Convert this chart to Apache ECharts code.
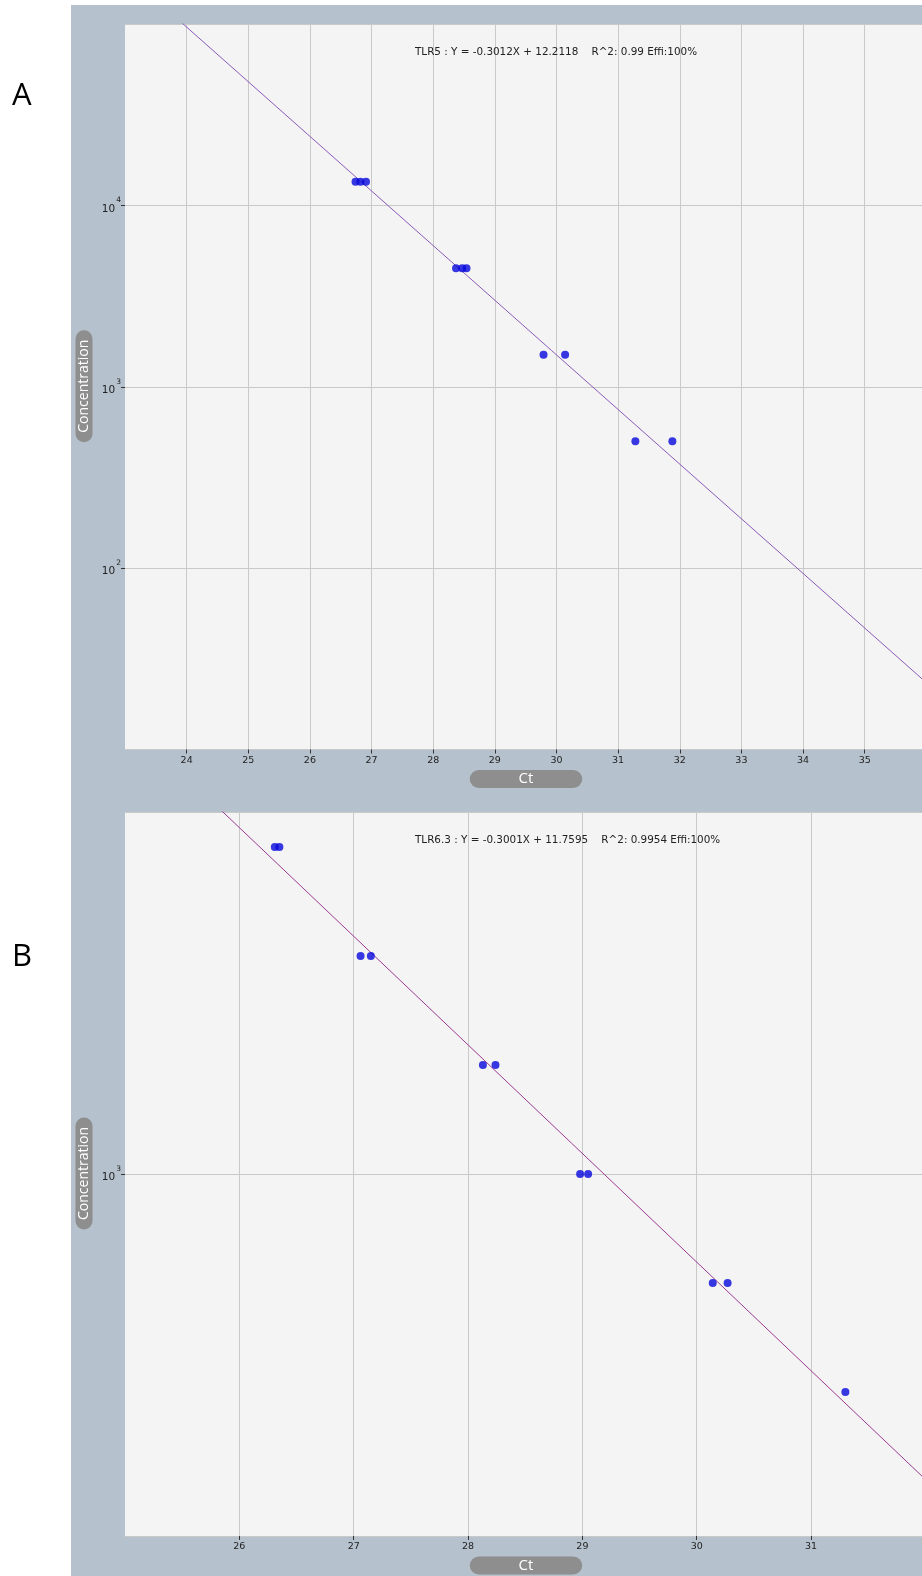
<!DOCTYPE html>
<html>
<head>
<meta charset="utf-8">
<script src="https://cdn.jsdelivr.net/npm/echarts@6/dist/echarts.min.js"></script>
<style>
  html, body { margin: 0; padding: 0; background: #fff; }
  #chart { width: 922px; height: 1576px; }
</style>
</head>
<body>
<div id="chart"></div>
<script>
// ---- Standard curve A: TLR5 ----
const ctA   = [26.74, 26.82, 26.91, 28.37, 28.47, 28.54, 29.79, 30.14, 31.28, 31.88];
const concA = [13500, 13500, 13500, 4500, 4500, 4500, 1500, 1500, 500, 500];
const fitA  = { name: 'TLR5', slope: -0.3012, intercept: 12.2118, r2: '0.99', effi: '100%' };
const xTicksA = [24, 25, 26, 27, 28, 29, 30, 31, 32, 33, 34, 35];
const xRangeA = [23, 35.93];
const yRangeA = [10, 100000];

// ---- Standard curve B: TLR6.3 ----
const ctB   = [26.31, 26.35, 27.06, 27.15, 28.13, 28.24, 28.98, 29.05, 30.14, 30.27, 31.30];
const concB = [8000, 8000, 4000, 4000, 2000, 2000, 1000, 1000, 500, 500, 250];
const fitB  = { name: 'TLR6.3', slope: -0.3001, intercept: 11.7595, r2: '0.9954', effi: '100%' };
const xTicksB = [26, 27, 28, 29, 30, 31];
const xRangeB = [25, 31.97];
const yRangeB = [100, 10000];

// ---- layout ----
const PLOT_L = 125;
const PANEL_L = 71, PANEL_T = 5;
const gridA = { top: 24, height: 725.5 };
const gridB = { top: 812, height: 724 };
const PANEL_BG = '#b5c1cc';
const PLOT_BG = '#f4f4f4';
const GRID_LINE = '#c9c9c9';
const PILL = '#8e8e8e';
const TEXT = '#222';

const pairs = (xs, ys) => xs.map((x, i) => [x, ys[i]]);
// regression line log10(C) = slope * Ct + intercept, across the visible Ct range
const fitLine = (fit, range) => range.map(x => [x, Math.pow(10, fit.slope * x + fit.intercept)]);
const eqText = f => `${f.name} : Y = ${f.slope.toFixed(4)}X + ${f.intercept.toFixed(4)}    R^2: ${f.r2} Effi:${f.effi}`;

function xAxis(gridIndex, range, ticks) {
  return {
    type: 'value', gridIndex, min: range[0], max: range[1], interval: 1,
    axisLine: { show: false },
    axisTick: { show: true, length: 4, customValues: ticks, lineStyle: { color: '#333', width: 1 } },
    axisLabel: { customValues: ticks, margin: 6, color: TEXT, fontSize: 9.5, fontFamily: 'DejaVu Sans' },
    splitLine: { show: true, lineStyle: { color: GRID_LINE, width: 1 } }
  };
}
function yAxis(gridIndex, range) {
  return {
    type: 'log', logBase: 10, gridIndex, min: range[0], max: range[1],
    axisLine: { show: false },
    axisTick: { show: true, length: 4, lineStyle: { color: '#333', width: 1 } },
    axisLabel: {
      showMinLabel: false, showMaxLabel: false, margin: 4,
      formatter: v => '{b|10}{s|' + Math.round(Math.log10(v)) + '}',
      rich: {
        b: { fontSize: 10.5, fontFamily: 'DejaVu Sans', color: TEXT, lineHeight: 18, verticalAlign: 'bottom', padding: [5, 0, 0, 0] },
        s: { fontSize: 7.5, fontFamily: 'DejaVu Sans', color: TEXT, lineHeight: 18, verticalAlign: 'top', padding: [0, 0, 2, 1] }
      }
    },
    splitLine: { show: true, lineStyle: { color: GRID_LINE, width: 1 } }
  };
}

const chart = echarts.init(document.getElementById('chart'), null, { renderer: 'canvas' });
const W = 922, H = 1576;

function pillText(cx, cy, w, h, text, vertical, fontSize) {
  return [
    { type: 'rect', z: 10,
      shape: vertical ? { x: cx - w / 2, y: cy - h / 2, width: w, height: h, r: w / 2 }
                      : { x: cx - w / 2, y: cy - h / 2, width: w, height: h, r: h / 2 },
      style: { fill: PILL } },
    { type: 'text', z: 11, x: cx, y: cy, rotation: vertical ? Math.PI / 2 : 0,
      style: { text, fill: '#fff', font: `${fontSize}px "Open Sans", sans-serif`, textAlign: 'center', textVerticalAlign: 'middle' } }
  ];
}

const plotCx = (PLOT_L + W) / 2 + 2.5;
const cyA = gridA.top + gridA.height / 2;
const cyB = gridB.top + gridB.height / 2;
const botA = gridA.top + gridA.height;
const botB = gridB.top + gridB.height;

chart.setOption({
  animation: false,
  backgroundColor: PANEL_BG,
  grid: [
    { left: PLOT_L, right: 0, top: gridA.top, height: gridA.height, show: true, backgroundColor: PLOT_BG, borderWidth: 0 },
    { left: PLOT_L, right: 0, top: gridB.top, height: gridB.height, show: true, backgroundColor: PLOT_BG, borderWidth: 0 }
  ],
  xAxis: [xAxis(0, xRangeA, xTicksA), xAxis(1, xRangeB, xTicksB)],
  yAxis: [yAxis(0, yRangeA), yAxis(1, yRangeB)],
  series: [
    { type: 'line', xAxisIndex: 0, yAxisIndex: 0, data: fitLine(fitA, xRangeA), symbol: 'none', clip: true,
      lineStyle: { color: '#8a5ab8', width: 1 }, z: 2 },
    { type: 'scatter', xAxisIndex: 0, yAxisIndex: 0, data: pairs(ctA, concA), symbolSize: 8,
      itemStyle: { color: '#0808dc' }, z: 3 },
    { type: 'line', xAxisIndex: 1, yAxisIndex: 1, data: fitLine(fitB, xRangeB), symbol: 'none', clip: true,
      lineStyle: { color: '#9c3a92', width: 1 }, z: 2 },
    { type: 'scatter', xAxisIndex: 1, yAxisIndex: 1, data: pairs(ctB, concB), symbolSize: 8,
      itemStyle: { color: '#0808dc' }, z: 3 }
  ],
  graphic: [
    // white page margins around the grey panel
    { type: 'rect', z: 1, shape: { x: 0, y: 0, width: PANEL_L, height: H }, style: { fill: '#fff' } },
    { type: 'rect', z: 1, shape: { x: 0, y: 0, width: W, height: PANEL_T }, style: { fill: '#fff' } },
    // panel letters
    { type: 'text', z: 12, x: 12, y: 96, style: { text: 'A', fill: '#000', font: '31px "Open Sans", sans-serif', textVerticalAlign: 'middle' } },
    { type: 'text', z: 12, x: 12, y: 957.5, style: { text: 'B', fill: '#000', font: '31px "Open Sans", sans-serif', textVerticalAlign: 'middle' } },
    // fit equations
    { type: 'text', z: 12, x: 415, y: gridA.top + 28.7, style: { text: eqText(fitA), fill: TEXT, font: '10.4px "DejaVu Sans", sans-serif', textVerticalAlign: 'middle' } },
    { type: 'text', z: 12, x: 415, y: gridB.top + 28.7, style: { text: eqText(fitB), fill: TEXT, font: '10.4px "DejaVu Sans", sans-serif', textVerticalAlign: 'middle' } },
    // axis name pills
    ...pillText(84, cyA - 0.5, 17, 112, 'Concentration', true, 14),
    ...pillText(84, cyB - 0.5, 17, 112, 'Concentration', true, 14),
    ...pillText(plotCx, botA + 29.5, 112.5, 18, 'Ct', false, 15),
    ...pillText(plotCx, botB + 29.5, 112.5, 18, 'Ct', false, 15)
  ]
});
</script>
</body>
</html>
